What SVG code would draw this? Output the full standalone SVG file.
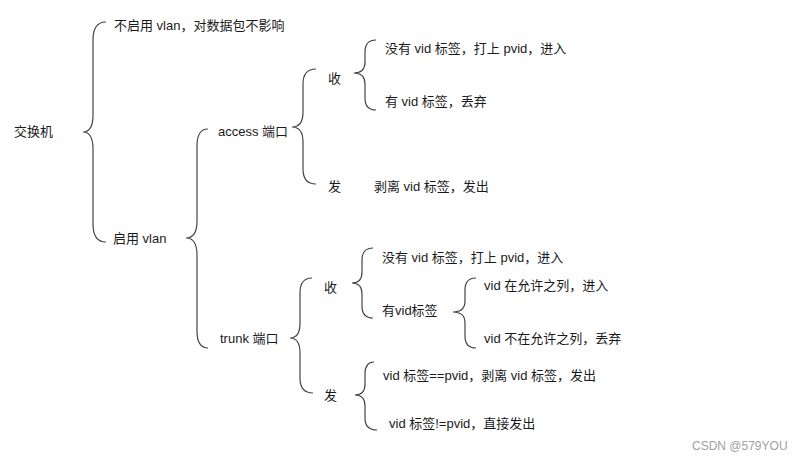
<svg xmlns="http://www.w3.org/2000/svg" width="794" height="460" viewBox="0 0 794 460">
<style>
.t{font-family:"Liberation Sans","Noto Sans CJK SC",sans-serif;font-size:13px;fill:#1a1a1a;dominant-baseline:central}
.b{fill:none;stroke:#444;stroke-width:1.2}
.w{font-family:"Liberation Sans","Noto Sans CJK SC",sans-serif;font-size:12px;fill:#a0a0a0;dominant-baseline:central}
</style>
<rect width="794" height="460" fill="#fff"/>
<g id="connectors">
<path class="b" d="M106,22 Q93,22 93,40 L93,115 Q93,132 83,132 Q93,132 93,149 L93,224 Q93,242 106,242"/>
<path class="b" d="M208,129 Q197,129 197,146 L197,221 Q197,238 186,238 Q197,238 197,255 L197,331 Q197,348 208,348"/>
<path class="b" d="M316,69 Q303,69 303,84 L303,112 Q303,127 292,127 Q303,127 303,142 L303,169 Q303,184 316,184"/>
<path class="b" d="M376,40 Q365,40 365,52 L365,62 Q365,73 354,73 Q365,73 365,84 L365,98 Q365,110 376,110"/>
<path class="b" d="M312,278 Q300,278 300,293 L300,323 Q300,338 290,338 Q300,338 300,353 L300,378 Q300,393 313,393"/>
<path class="b" d="M373,248 Q362,248 362,260 L362,272 Q362,283 352,283 Q362,283 362,294 L362,306 Q362,318 373,318"/>
<path class="b" d="M476,278 Q465,278 465,290 L465,301 Q465,312 453,312 Q465,312 465,323 L465,336 Q465,348 476,348"/>
<path class="b" d="M374,362 Q365,362 365,374 L365,384 Q365,395 355,395 Q365,395 365,406 L365,418 Q365,430 377,430"/>
</g>
<g id="root"><text class="t" x="14" y="131">交换机</text></g>
<g id="no-vlan"><text class="t" x="114" y="25">不启用 vlan，对数据包不影响</text></g>
<g id="vlan"><text class="t" x="113" y="238">启用 vlan</text></g>
<g id="access"><text class="t" x="218" y="131">access 端口</text></g>
<g id="trunk"><text class="t" x="220" y="338">trunk 端口</text></g>
<g id="access-rx"><text class="t" x="328" y="78">收</text></g>
<g id="access-tx"><text class="t" x="328" y="186">发</text></g>
<g id="access-rx-untagged"><text class="t" x="385" y="48">没有 vid 标签，打上 pvid，进入</text></g>
<g id="access-rx-tagged"><text class="t" x="385" y="101">有 vid 标签，丢弃</text></g>
<g id="access-tx-strip"><text class="t" x="374" y="186">剥离 vid 标签，发出</text></g>
<g id="trunk-rx"><text class="t" x="324" y="287">收</text></g>
<g id="trunk-tx"><text class="t" x="324" y="395">发</text></g>
<g id="trunk-rx-untagged"><text class="t" x="382" y="257">没有 vid 标签，打上 pvid，进入</text></g>
<g id="trunk-rx-tagged"><text class="t" x="382" y="310">有vid标签</text></g>
<g id="allowed"><text class="t" x="484" y="285">vid 在允许之列，进入</text></g>
<g id="not-allowed"><text class="t" x="484" y="338">vid 不在允许之列，丢弃</text></g>
<g id="trunk-tx-eq"><text class="t" x="383" y="375">vid 标签==pvid，剥离 vid 标签，发出</text></g>
<g id="trunk-tx-ne"><text class="t" x="389" y="423">vid 标签!=pvid，直接发出</text></g>
<text class="w" x="692" y="446">CSDN @579YOU</text>
</svg>
